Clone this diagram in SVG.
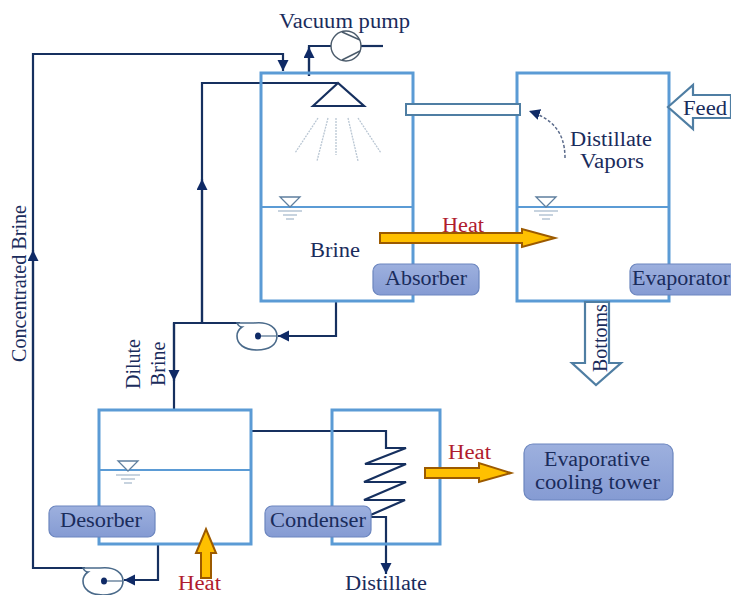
<svg xmlns="http://www.w3.org/2000/svg" width="731" height="595" viewBox="0 0 731 595">
<defs>
<linearGradient id="lab" x1="0" y1="0" x2="0" y2="1"><stop offset="0" stop-color="#9db0de"/><stop offset="1" stop-color="#859bd3"/></linearGradient>
<marker id="ah" markerUnits="userSpaceOnUse" markerWidth="12" markerHeight="12" refX="11" refY="5.5" orient="auto"><path d="M0 0L11 5.5L0 11Z" fill="#0f2a66"/></marker>
<g id="lvl"><path d="M-10 0H10L0 10Z" fill="#fff" stroke="#5f7f9f" stroke-width="1.3"/><path d="M-12 14H12M-7 18H7M-4 22H4" stroke="#8fa8bf" stroke-width="1.2" fill="none"/></g>
<g id="pump"><path d="M-21 -13H-4C12 -15 19 -7 19 0C19 9 11 14 -1 14C-14 14 -21 8 -21 0C-21 -5 -19 -7 -16 -9C-19 -9 -20 -11 -21 -13Z" fill="#fff" stroke="#4a6a8a" stroke-width="1.6"/><path d="M0 0H19" stroke="#4a6a8a" stroke-width="1.2"/><ellipse cx="0" cy="0" rx="3" ry="3.6" fill="#0f2a66"/></g>
</defs>
<style>
text{font-family:"Liberation Serif","Times New Roman",serif;fill:#1a2c5c;font-size:20px}
.v{fill:none;stroke:#5b9bd5;stroke-width:3}
.lv{fill:none;stroke:#5b9bd5;stroke-width:2}
.c{fill:none;stroke:#16305f;stroke-width:2.2}
.h{fill:#ffc000;stroke:#9c5a00;stroke-width:2}
.ha{fill:#b01c2e}
.w{fill:#fff;stroke:#4f7ea3;stroke-width:2.2}
.b{fill:url(#lab);stroke:#6c86bf;stroke-width:1.2}
.s{fill:none;stroke:#b9c6d3;stroke-width:1.3;stroke-dasharray:2 1}
</style>
<g id="connectors">
<path class="c" d="M250 431H386V448H406L365 464H406L364 482H406L364 500H405L366 517H386V574" marker-end="url(#ah)"/>
<path class="c" d="M174 409V323H240"/>
<path class="c" d="M174 323V381" marker-end="url(#ah)"/>
<path class="c" d="M202 323V83H337"/>
<path class="c" d="M202 323V179" marker-end="url(#ah)"/>
<path class="c" d="M336 301V336H278" marker-end="url(#ah)"/>
<path class="c" d="M158 544V580H124" marker-end="url(#ah)"/>
<path class="c" d="M85 568H33V54H283V71" marker-end="url(#ah)"/>
<path class="c" d="M33 400V250" marker-end="url(#ah)"/>
<path class="c" d="M309 76V46H331"/>
<path class="c" d="M309 76V47" marker-end="url(#ah)"/>
<path class="c" d="M361 46H383"/>
<path d="M565 158C565 130 550 118 529 111" fill="none" stroke="#5a6a8a" stroke-width="1.5" stroke-dasharray="3 2" marker-end="url(#ah)"/>
</g>
<g id="absorber">
<rect class="v" x="261" y="73" width="152" height="228"/>
<path class="lv" d="M261 207H413"/>
<use href="#lvl" x="290" y="197"/>
<path d="M313 106L338 83L364 106Z" fill="#fff" stroke="#16305f" stroke-width="2.2"/>
<path class="s" d="M318 118L295 153M328 118L317 161M336 118V155M348 118L358 161M358 118L381 153"/>
<text x="310" y="257" textLength="50" lengthAdjust="spacingAndGlyphs">Brine</text>
<rect class="b" x="373" y="264" width="106" height="31" rx="7"/>
<text x="385" y="285" textLength="82" lengthAdjust="spacingAndGlyphs">Absorber</text>
</g>
<g id="evaporator">
<rect class="v" x="517" y="73" width="152" height="228"/>
<path class="lv" d="M517 207H669"/>
<use href="#lvl" x="546" y="197"/>
<text x="570" y="146" textLength="82" lengthAdjust="spacingAndGlyphs">Distillate</text>
<text x="580" y="168" textLength="64" lengthAdjust="spacingAndGlyphs">Vapors</text>
<rect class="b" x="630" y="264" width="110" height="31" rx="7"/>
<text x="632" y="285" textLength="98" lengthAdjust="spacingAndGlyphs">Evaporator</text>
</g>
<g id="duct"><rect x="406" y="104" width="114" height="11" fill="#fff" stroke="#4f7ea3" stroke-width="2"/></g>
<g id="vacuum-pump">
<text x="279" y="28" textLength="131" lengthAdjust="spacingAndGlyphs">Vacuum pump</text>
<circle cx="346" cy="46" r="15" fill="#fff" stroke="#4a5a6a" stroke-width="1.4"/>
<path d="M342 32L360 40M342 60L360 51" stroke="#4a5a6a" stroke-width="1.4"/>
</g>
<g id="feed">
<path class="w" d="M668 107L693 85V95H731V118H693V129Z"/>
<text x="683" y="115" textLength="44" lengthAdjust="spacingAndGlyphs">Feed</text>
</g>
<g id="bottoms">
<path class="w" d="M585 302H609V363H621L596 385L572 363H585Z" stroke-width="2"/>
<text transform="translate(607,372) rotate(-90)">Bottoms</text>
</g>
<g id="heat-absorber">
<path class="h" d="M380 233H522V229L555 238L522 247V243H380Z"/>
<text class="ha" x="442" y="232" textLength="42" lengthAdjust="spacingAndGlyphs">Heat</text>
</g>
<g id="desorber">
<rect class="v" x="99" y="410" width="152" height="134"/>
<path class="lv" d="M99 470H251"/>
<use href="#lvl" x="128" y="461"/>
<rect class="b" x="49" y="506" width="106" height="31" rx="7"/>
<text x="60" y="527" textLength="82" lengthAdjust="spacingAndGlyphs">Desorber</text>
</g>
<g id="heat-desorber">
<path class="h" d="M201 578V553H196L206 529L216 553H211V578Z"/>
<text class="ha" x="178" y="590" textLength="43" lengthAdjust="spacingAndGlyphs">Heat</text>
</g>
<g id="condenser">
<rect class="v" x="332" y="410" width="108" height="134"/>
<rect class="b" x="265" y="506" width="106" height="31" rx="7"/>
<text x="270" y="527" textLength="96" lengthAdjust="spacingAndGlyphs">Condenser</text>
<text x="345" y="590" textLength="82" lengthAdjust="spacingAndGlyphs">Distillate</text>
</g>
<g id="heat-condenser">
<path class="h" d="M425 468H479V463L511 473L479 482V478H425Z"/>
<text class="ha" x="448" y="459" textLength="43" lengthAdjust="spacingAndGlyphs">Heat</text>
</g>
<g id="cooling-tower">
<rect class="b" x="524" y="444" width="149" height="56" rx="9"/>
<text x="544" y="466" textLength="106" lengthAdjust="spacingAndGlyphs">Evaporative</text>
<text x="535" y="489" textLength="125" lengthAdjust="spacingAndGlyphs">cooling tower</text>
</g>
<g id="pump-top"><use href="#pump" x="258" y="336"/></g>
<g id="pump-bottom"><use href="#pump" x="104" y="581"/></g>
<g id="labels">
<text transform="translate(26,362) rotate(-90)" textLength="157" lengthAdjust="spacingAndGlyphs">Concentrated Brine</text>
<text transform="translate(140,389) rotate(-90)">Dilute</text>
<text transform="translate(165,386) rotate(-90)">Brine</text>
</g>
</svg>
